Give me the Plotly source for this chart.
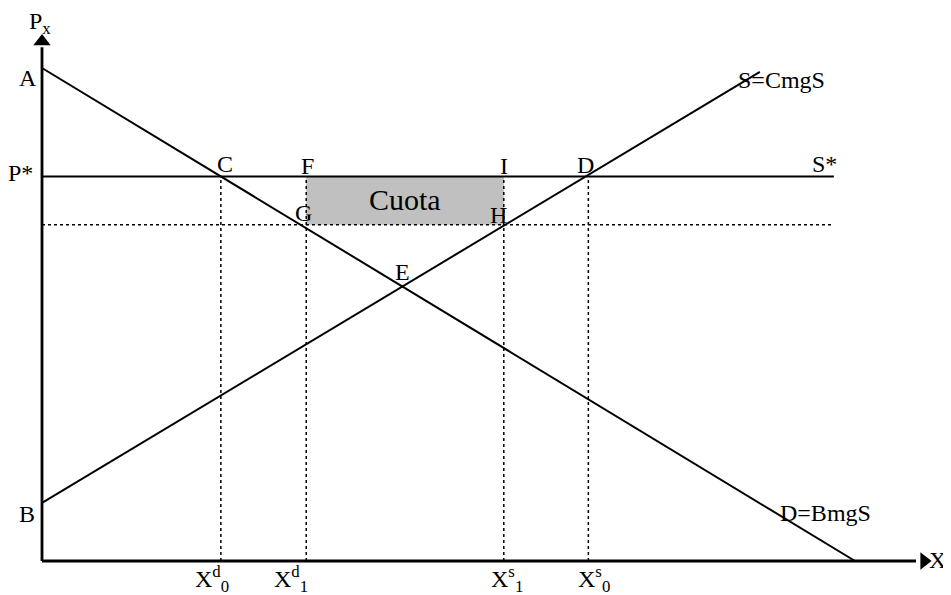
import plotly.graph_objects as go

# Curves (quantity, price)
demand_q = [0, 100]
demand_p = [100, 0]
supply_q = [0, 88.3]
supply_p = [11.8, 99.2]

p_star = 78          # world price line S*
p_quota = 68.2       # price with quota
s_star_end = 97.4

q_d0 = 22.0
q_d1 = 32.5
q_s1 = 56.8
q_s0 = 67.2

q_axis_end = 107.5
p_axis_end = 104.2

SERIF = "Liberation Serif"
FS = 24

fig = go.Figure()

# quota rectangle
fig.add_trace(go.Scatter(
    x=[q_d1, q_s1, q_s1, q_d1, q_d1],
    y=[p_quota, p_quota, p_star, p_star, p_quota],
    fill="toself", fillcolor="#c0c0c0", mode="none", hoverinfo="skip"))

# dotted guides
dot = dict(color="black", width=1.5, dash="dot")
for q in [q_d0, q_d1, q_s1, q_s0]:
    fig.add_trace(go.Scatter(x=[q, q], y=[0, p_star], mode="lines", line=dot))
fig.add_trace(go.Scatter(x=[0, s_star_end], y=[p_quota, p_quota], mode="lines", line=dot))

# S* line
solid = dict(color="black", width=2)
fig.add_trace(go.Scatter(x=[0, s_star_end], y=[p_star, p_star], mode="lines", line=solid))

# demand and supply
fig.add_trace(go.Scatter(x=demand_q, y=demand_p, mode="lines", line=solid))
fig.add_trace(go.Scatter(x=supply_q, y=supply_p, mode="lines", line=solid))

# axes with arrow heads
axis = dict(color="black", width=2.8)
fig.add_trace(go.Scatter(x=[0, 0], y=[0, p_axis_end], mode="lines", line=axis))
fig.add_trace(go.Scatter(x=[0, q_axis_end], y=[0, 0], mode="lines", line=axis))
fig.add_trace(go.Scatter(x=[0], y=[p_axis_end + 1.2], mode="markers",
                         marker=dict(symbol="triangle-up", size=15, color="black")))
fig.add_trace(go.Scatter(x=[q_axis_end + 1.0], y=[0], mode="markers",
                         marker=dict(symbol="triangle-right", size=15, color="black")))

labels = [
    ("P<sub>x</sub>", -0.2, 109.1),
    ("A", -1.72, 98.0),
    ("P*", -2.6, 78.7),
    ("B", -1.84, 9.5),
    ("C", 22.5, 80.6),
    ("F", 32.7, 80.2),
    ("I", 56.8, 80.2),
    ("D", 66.9, 80.4),
    ("S*", 96.3, 80.6),
    ("G", 32.2, 70.6),
    ("H", 56.2, 70.2),
    ("E", 44.4, 58.6),
    ("S=CmgS", 90.9, 97.6),
    ("D=BmgS", 96.4, 9.7),
    ("X", 110.1, 0.2),
    ("X<sup>d</sup><sub>0</sub>", 20.9, -3.6),
    ("X<sup>d</sup><sub>1</sub>", 30.6, -3.6),
    ("X<sup>s</sup><sub>1</sub>", 57.2, -3.6),
    ("X<sup>s</sup><sub>0</sub>", 67.9, -3.6),
]
for text, x, y in labels:
    fig.add_annotation(x=x, y=y, text=text, showarrow=False,
                       font=dict(family=SERIF, size=FS, color="black"))
fig.add_annotation(x=(q_d1 + q_s1) / 2, y=(p_quota + p_star) / 2 + 0.3, text="Cuota",
                   showarrow=False, font=dict(family=SERIF, size=30, color="black"))

# the page body adds an 8px margin, so the ranges are set to put the origin at (42, 561) on screen
fig.update_layout(
    width=951, height=595,
    margin=dict(l=0, r=0, t=0, b=0),
    paper_bgcolor="white", plot_bgcolor="white",
    showlegend=False,
    xaxis=dict(range=[-4.182, 112.79], visible=False, fixedrange=True),
    yaxis=dict(range=[-8.519, 112.17], visible=False, fixedrange=True),
)

fig.write_html("out.html")
